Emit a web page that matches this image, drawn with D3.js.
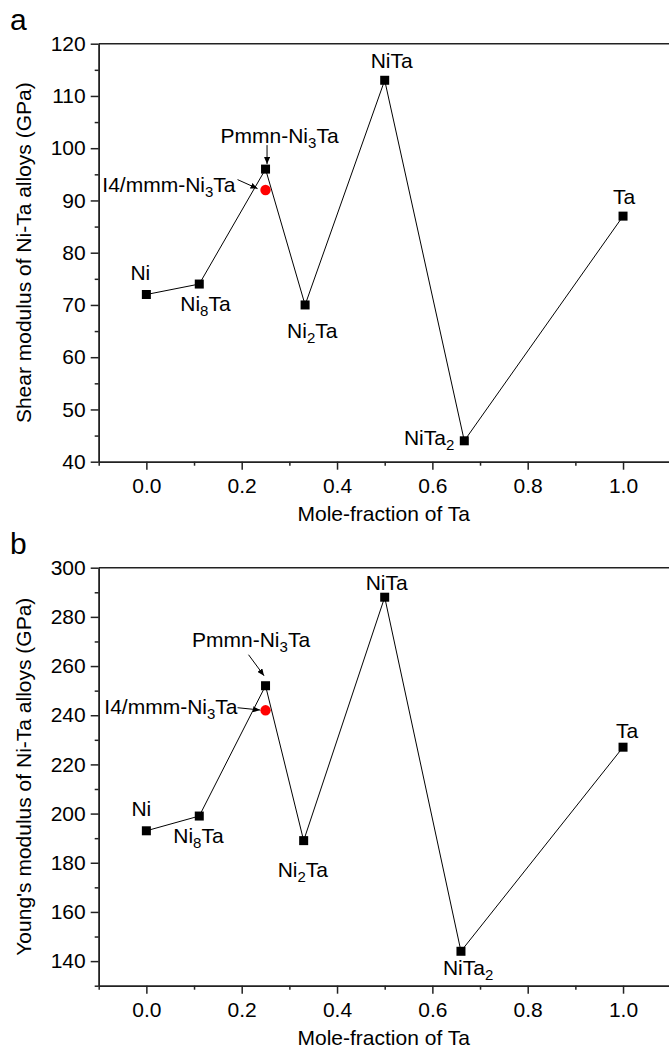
<!DOCTYPE html>
<html>
<head>
<meta charset="utf-8">
<script src="https://cdn.jsdelivr.net/npm/d3@7"></script>
<style>
  body { margin: 0; background: #fff; }
  text { font-family: Arial, "Liberation Sans", sans-serif; fill: #000; }
</style>
</head>
<body>
<div id="chart"></div>
<script>
// compounds along the black curve, {..} marks a subscript
const names = ['Ni', 'Ni{8}Ta', 'Pmmn-Ni{3}Ta', 'Ni{2}Ta', 'NiTa', 'NiTa{2}', 'Ta'];
const shearX = [0, 0.111, 0.25, 0.333, 0.5, 0.667, 1.0];
const shearG = [72, 74, 96, 70, 113, 44, 87];
const youngX = [0, 0.111, 0.25, 0.33, 0.5, 0.66, 1.0];
const youngE = [193, 199, 252, 189, 288, 144, 227];

// the tetragonal phase (red dot)
const tetraName = 'I4/mmm-Ni{3}Ta';
const tetraX = 0.25;
const tetraG = 92;
const tetraE = 242;

const xTicks = [0.0, 0.2, 0.4, 0.6, 0.8, 1.0];
const shearTicks = [40, 50, 60, 70, 80, 90, 100, 110, 120];
const youngTicks = [140, 160, 180, 200, 220, 240, 260, 280, 300];

const width = 669;
const height = 1048;
const left = 98.7;
const right = 670.7;
const fs = 21;

const svg = d3.select('#chart')
  .append('svg')
    .attr('width', width)
    .attr('height', height);

svg.append('defs')
  .append('marker')
    .attr('id', 'arrow')
    .attr('markerUnits', 'userSpaceOnUse')
    .attr('markerWidth', 8)
    .attr('markerHeight', 6)
    .attr('refX', 7)
    .attr('refY', 3)
    .attr('orient', 'auto')
  .append('path')
    .attr('d', 'M0,0 L7,3 L0,6 Z')
    .attr('fill', '#000');

/**
* Write a label, text in {} becomes a subscript.
*/
function addLabel(g, str, x, y, anchor) {
  let t = g.append('text')
      .attr('x', x)
      .attr('y', y)
      .attr('text-anchor', anchor)
      .attr('font-size', fs);
  let down = false;
  str.split(/(\{[^}]*\})/).filter(function(s) { return s; }).forEach(function(part) {
    if (part[0] === '{') {
      t.append('tspan').attr('font-size', 15).attr('dy', 5).text(part.slice(1, -1));
      down = true;
    } else {
      t.append('tspan').attr('dy', down ? -5 : 0).text(part);
      down = false;
    }
  });
}

function drawPanel(opt) {
  let x = d3.scaleLinear().domain([-0.1, 1.1]).range([left, right]);
  let y = d3.scaleLinear().domain(opt.yDomain).range([opt.bottom, opt.top]);
  let g = svg.append('g');

  // frame top / right
  g.append('path')
      .attr('d', 'M' + left + ',' + opt.top + 'H' + right + 'V' + opt.bottom)
      .attr('fill', 'none')
      .attr('stroke', '#222')
      .attr('stroke-width', 1.5);

  // minor ticks
  g.append('g')
      .attr('transform', 'translate(0,' + opt.bottom + ')')
      .call(d3.axisBottom(x).tickValues(d3.range(-0.1, 1.15, 0.2)).tickSize(4).tickSizeOuter(0).tickFormat(''));
  g.append('g')
      .attr('transform', 'translate(' + left + ',0)')
      .call(d3.axisLeft(y).tickValues(opt.yMinor).tickSize(4).tickSizeOuter(0).tickFormat(''));

  g.append('g')
      .attr('transform', 'translate(0,' + opt.bottom + ')')
      .call(d3.axisBottom(x).tickValues(xTicks).tickSize(8).tickSizeOuter(0).tickPadding(8).tickFormat(d3.format('.1f')));
  g.append('g')
      .attr('transform', 'translate(' + left + ',0)')
      .call(d3.axisLeft(y).tickValues(opt.yTicks).tickSize(8).tickSizeOuter(0).tickPadding(5).tickFormat(d3.format('d')));

  g.selectAll('.domain, .tick line').attr('stroke', '#222').attr('stroke-width', 1.5);
  g.selectAll('.tick text')
      .attr('font-size', fs)
      .attr('font-family', 'Arial, "Liberation Sans", sans-serif')
      .attr('fill', '#000');

  g.append('text')
      .attr('x', (left + right) / 2 - 1)
      .attr('y', opt.bottom + 59)
      .attr('text-anchor', 'middle')
      .attr('font-size', fs)
      .text('Mole-fraction of Ta');

  g.append('text')
      .attr('transform', 'translate(31,' + (opt.top + opt.bottom) / 2 + ') rotate(-90)')
      .attr('text-anchor', 'middle')
      .attr('font-size', fs)
      .text(opt.yTitle);

  g.append('text')
      .attr('x', 10)
      .attr('y', opt.top - 14)
      .attr('font-size', 30)
      .text(opt.letter);

  let pts = opt.xs.map(function(d, i) { return [x(d), y(opt.ys[i])]; });

  g.append('path')
      .attr('d', d3.line()(pts))
      .attr('fill', 'none')
      .attr('stroke', '#000')
      .attr('stroke-width', 1);

  g.selectAll('rect.pt')
      .data(pts)
    .enter()
    .append('rect')
      .attr('class', 'pt')
      .attr('x', function(d) { return d[0] - 4.5; })
      .attr('y', function(d) { return d[1] - 4.5; })
      .attr('width', 9)
      .attr('height', 9)
      .attr('fill', '#000');

  let red = [x(tetraX), y(opt.tetra)];
  g.append('circle')
      .attr('cx', red[0])
      .attr('cy', red[1])
      .attr('r', 5.2)
      .attr('fill', '#f00');

  names.forEach(function(n, i) {
    let o = opt.offsets[i];
    addLabel(g, n, pts[i][0] + o[0], pts[i][1] + o[1], o[2]);
  });
  addLabel(g, tetraName, red[0] + opt.tetraOffset[0], red[1] + opt.tetraOffset[1], 'end');

  // arrows to the two Ni3Ta points
  let a1 = opt.pmmnArrow;
  g.append('line')
      .attr('x1', pts[2][0] + a1[0]).attr('y1', pts[2][1] + a1[1])
      .attr('x2', pts[2][0] + a1[2]).attr('y2', pts[2][1] + a1[3])
      .attr('stroke', '#000')
      .attr('stroke-width', 1)
      .attr('marker-end', 'url(#arrow)');
  let a2 = opt.tetraArrow;
  g.append('line')
      .attr('x1', red[0] + a2[0]).attr('y1', red[1] + a2[1])
      .attr('x2', red[0] + a2[2]).attr('y2', red[1] + a2[3])
      .attr('stroke', '#000')
      .attr('stroke-width', 1)
      .attr('marker-end', 'url(#arrow)');
}

drawPanel({
  letter: 'a',
  top: 43.7,
  bottom: 461.7,
  yDomain: [40, 120],
  yTicks: shearTicks,
  yMinor: d3.range(45, 120, 10),
  yTitle: 'Shear modulus of Ni-Ta alloys (GPa)',
  xs: shearX,
  ys: shearG,
  tetra: tetraG,
  offsets: [[-6, -15, 'middle'], [-19, 27, 'start'], [-45, -26, 'start'], [-18, 33, 'start'],
    [7, -12, 'middle'], [-10, 4.5, 'end'], [1, -12, 'middle']],
  tetraOffset: [-30, 2],
  pmmnArrow: [1.5, -24, 1.5, -5],
  tetraArrow: [-28, -10.4, -8, -1.4],
});

drawPanel({
  letter: 'b',
  top: 567.7,
  bottom: 985.7,
  yDomain: [130, 300],
  yTicks: youngTicks,
  yMinor: d3.range(130, 300, 20),
  yTitle: 'Young\'s modulus of Ni-Ta alloys (GPa)',
  xs: youngX,
  ys: youngE,
  tetra: tetraE,
  offsets: [[-5, -14.6, 'middle'], [-26, 27, 'start'], [-73.5, -39, 'start'], [-26, 36, 'start'],
    [2, -7, 'middle'], [-18, 24, 'start'], [4, -9, 'middle']],
  tetraOffset: [-28, 4],
  pmmnArrow: [-17, -31, -1.5, -10],
  tetraArrow: [-28, -2.6, -5.5, -0.3],
});
</script>
</body>
</html>
